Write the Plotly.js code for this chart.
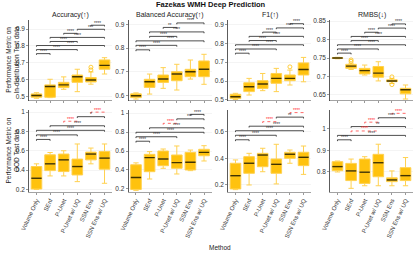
<!DOCTYPE html>
<html><head><meta charset="utf-8">
<script src="https://cdn.plot.ly/plotly-3.0.1.min.js"></script>
<style>html,body{margin:0;padding:0;background:#fff}#chart{width:415px;height:254px}</style>
</head><body><div id="chart"></div>
<script>
const methods = ["Volume Only","SEnf","P-Unet","P-Unet w/ UQ","SSN Ens","SSN Ens w/ UQ"];
const metrics = ["Accuracy(↑)","Balanced Accuracy(↑)","F1(↑)","RMBS(↓)"];
const higherBetter = [true,true,true,false];
const comparisons = [[0,1],[0,3],[0,5],[1,3],[1,5],[2,3],[3,5],[4,5]];

// In-distribution test data
const accID_lo  = [0.492,0.496,0.545,0.531,0.575,0.635];
const accID_q1  = [0.498,0.498,0.555,0.586,0.588,0.663];
const accID_med = [0.508,0.561,0.571,0.619,0.600,0.686];
const accID_q3  = [0.518,0.571,0.586,0.629,0.614,0.718];
const accID_hi  = [0.525,0.604,0.618,0.663,0.647,0.731];
const accID_outX = [4,4], accID_outY = [0.675,0.659];
const accID_sig = ["****","****","****","****","****","****","***","****"];

const baID_lo  = [0.586,0.607,0.631,0.624,0.670,0.648];
const baID_q1  = [0.592,0.635,0.656,0.663,0.680,0.680];
const baID_med = [0.600,0.659,0.670,0.691,0.701,0.711];
const baID_q3  = [0.608,0.669,0.687,0.701,0.711,0.746];
const baID_hi  = [0.612,0.691,0.718,0.732,0.750,0.774];
const baID_sig = ["****","****","****","****","****","**","****","****"];

const f1ID_lo  = [0.502,0.526,0.549,0.544,0.579,0.596];
const f1ID_q1  = [0.507,0.544,0.561,0.588,0.602,0.632];
const f1ID_med = [0.517,0.570,0.584,0.614,0.614,0.661];
const f1ID_q3  = [0.530,0.591,0.602,0.640,0.632,0.696];
const f1ID_hi  = [0.535,0.614,0.640,0.667,0.658,0.725];
const f1ID_outX = [4], f1ID_outY = [0.675];
const f1ID_sig = ["****","****","****","****","****","****","****","****"];

const rmbsID_lo  = [0.748,0.719,0.704,0.688,0.681,0.639];
const rmbsID_q1  = [0.749,0.722,0.707,0.698,0.686,0.653];
const rmbsID_med = [0.750,0.728,0.716,0.709,0.688,0.664];
const rmbsID_q3  = [0.751,0.733,0.722,0.727,0.691,0.668];
const rmbsID_hi  = [0.752,0.736,0.731,0.740,0.695,0.677];
const rmbsID_outX = [1,1,4,4], rmbsID_outY = [0.745,0.741,0.699,0.678];
const rmbsID_sig = ["****","****","****","****","****","****","****","****"];

// OOD test data
const accOOD_lo  = [0.200,0.340,0.340,0.281,0.465,0.264];
const accOOD_q1  = [0.205,0.395,0.385,0.350,0.506,0.410];
const accOOD_med = [0.316,0.465,0.506,0.437,0.566,0.524];
const accOOD_q3  = [0.437,0.558,0.566,0.514,0.586,0.593];
const accOOD_hi  = [0.465,0.582,0.600,0.670,0.628,0.670];
const accOOD_sig = ["****","****","****","","****","****","*","****"];

const baOOD_lo  = [0.185,0.305,0.418,0.358,0.393,0.495];
const baOOD_q1  = [0.195,0.382,0.445,0.418,0.400,0.550];
const baOOD_med = [0.320,0.530,0.516,0.477,0.481,0.586];
const baOOD_q3  = [0.455,0.565,0.600,0.558,0.586,0.618];
const baOOD_hi  = [0.475,0.593,0.621,0.653,0.610,0.656];
const baOOD_sig = ["****","****","****","","****","****","***","****"];

const f1OOD_lo  = [0.165,0.200,0.300,0.208,0.364,0.280];
const f1OOD_q1  = [0.170,0.288,0.338,0.288,0.401,0.346];
const f1OOD_med = [0.270,0.364,0.426,0.356,0.432,0.409];
const f1OOD_q3  = [0.364,0.414,0.439,0.396,0.447,0.447];
const f1OOD_hi  = [0.389,0.439,0.477,0.507,0.464,0.494];
const f1OOD_sig = ["****","****","****","","****","****","**","****"];

const rmbsOOD_lo  = [0.800,0.724,0.736,0.736,0.736,0.736];
const rmbsOOD_q1  = [0.806,0.760,0.747,0.778,0.755,0.760];
const rmbsOOD_med = [0.825,0.805,0.799,0.843,0.763,0.783];
const rmbsOOD_q3  = [0.848,0.840,0.860,0.882,0.773,0.820];
const rmbsOOD_hi  = [0.851,0.860,0.871,0.929,0.805,0.867];
const rmbsOOD_sig = ["****","","****","****","**","****","****","****"];

// y-axis tick values per panel
const ticksAccID = [0.5,0.6,0.7,0.8,0.9];
const ticksBaID = [0.6,0.7,0.8,0.9];
const ticksF1ID = [0.5,0.6,0.7,0.8,0.9];
const ticksRmbsID = [0.65,0.7,0.75,0.8,0.85];
const ticksAccOOD = [0.2,0.4,0.6,0.8,1];
const ticksBaOOD = [0.2,0.4,0.6,0.8,1];
const ticksF1OOD = [0.2,0.4,0.6];
const ticksRmbsOOD = [0.8,0.9,1];

const panels = [
 {m:0,row:0,lo:accID_lo,q1:accID_q1,med:accID_med,q3:accID_q3,hi:accID_hi,ox:accID_outX,oy:accID_outY,sig:accID_sig,ticks:ticksAccID,range:[0.479,0.953]},
 {m:1,row:0,lo:baID_lo,q1:baID_q1,med:baID_med,q3:baID_q3,hi:baID_hi,ox:[],oy:[],sig:baID_sig,ticks:ticksBaID,range:[0.580,0.918]},
 {m:2,row:0,lo:f1ID_lo,q1:f1ID_q1,med:f1ID_med,q3:f1ID_q3,hi:f1ID_hi,ox:f1ID_outX,oy:f1ID_outY,sig:f1ID_sig,ticks:ticksF1ID,range:[0.497,0.923]},
 {m:3,row:0,lo:rmbsID_lo,q1:rmbsID_q1,med:rmbsID_med,q3:rmbsID_q3,hi:rmbsID_hi,ox:rmbsID_outX,oy:rmbsID_outY,sig:rmbsID_sig,ticks:ticksRmbsID,range:[0.635,0.853]},
 {m:0,row:1,lo:accOOD_lo,q1:accOOD_q1,med:accOOD_med,q3:accOOD_q3,hi:accOOD_hi,ox:[],oy:[],sig:accOOD_sig,ticks:ticksAccOOD,range:[0.174,1.021]},
 {m:1,row:1,lo:baOOD_lo,q1:baOOD_q1,med:baOOD_med,q3:baOOD_q3,hi:baOOD_hi,ox:[],oy:[],sig:baOOD_sig,ticks:ticksBaOOD,range:[0.168,1.032]},
 {m:2,row:1,lo:f1OOD_lo,q1:f1OOD_q1,med:f1OOD_med,q3:f1OOD_q3,hi:f1OOD_hi,ox:[],oy:[],sig:f1OOD_sig,ticks:ticksF1OOD,range:[0.147,0.766]},
 {m:3,row:1,lo:rmbsOOD_lo,q1:rmbsOOD_q1,med:rmbsOOD_med,q3:rmbsOOD_q3,hi:rmbsOOD_hi,ox:[],oy:[],sig:rmbsOOD_sig,ticks:ticksRmbsOOD,range:[0.707,1.088]}
];

const W = 415, H = 254;
const FONT = 'Liberation Sans, Arial, sans-serif';
const colLeft = [29, 128.5, 228, 330], colW = 83;
const rowTop = [20, 110], rowBot = [100.5, 192];
const GOLD = '#FFC20E', GOLDLINE = '#FFD150', MED = '#3f3200';

const traces = [], annotations = [];
const layout = {
  width: W, height: H, margin: {l:0,r:0,t:0,b:0},
  paper_bgcolor: '#fff', plot_bgcolor: '#fff', showlegend: false,
  font: {family: FONT, size: 6, color: '#333'}
};

panels.forEach((p, i) => {
  const n = i + 1, sfx = n === 1 ? '' : String(n);
  const xa = 'x' + sfx, ya = 'y' + sfx;
  const col = p.m, row = p.row;
  const xs = methods.map((_, k) => k);
  traces.push({type:'box', xaxis:xa, yaxis:ya, x:xs, q1:p.q1, median:p.med, q3:p.q3,
    lowerfence:p.lo, upperfence:p.hi, boxpoints:false, width:0.78, whiskerwidth:0.5,
    fillcolor:GOLD, line:{color:GOLDLINE, width:1}, hoverinfo:'skip', showlegend:false});
  const mx = [], my = [];
  p.med.forEach((v, k) => { mx.push(k - 0.38, k + 0.38, null); my.push(v, v, null); });
  traces.push({type:'scatter', mode:'lines', xaxis:xa, yaxis:ya, x:mx, y:my,
    line:{color:MED, width:1.4}, hoverinfo:'skip', showlegend:false});
  if (p.ox.length) {
    traces.push({type:'scatter', mode:'markers', xaxis:xa, yaxis:ya, x:p.ox, y:p.oy,
      marker:{symbol:'circle-open', size:4, color:GOLD, line:{width:0.8, color:GOLD}},
      hoverinfo:'skip', showlegend:false});
  }
  // significance brackets (positions derived from the data range, ggpubr style)
  const all = p.lo.concat(p.hi, p.oy);
  const ymin = Math.min(...all), ymax = Math.max(...all);
  const step = 0.1 * (ymax - ymin), tip = step * 0.3;
  const bx = [], by = [], rx = [], ry = [];
  let level = 0;
  comparisons.forEach((c, k) => {
    const lab = p.sig[k];
    if (!lab) return;
    const y = ymax + step * (level + 1); level++;
    const a = c[0], b = c[1];
    const worse = higherBetter[p.m] ? p.med[b] < p.med[a] : p.med[b] > p.med[a];
    const X = worse ? rx : bx, Y = worse ? ry : by;
    X.push(a, a, b, b, null); Y.push(y - tip, y, y, y - tip, null);
    annotations.push({xref:xa, yref:ya, x:(a + b) / 2, y:y, text:lab, showarrow:false,
      yanchor:'bottom', yshift:-2.5, font:{size:4.5, family:FONT, color: worse ? '#ff2a2a' : '#333'}});
  });
  traces.push({type:'scatter', mode:'lines', xaxis:xa, yaxis:ya, x:bx, y:by,
    line:{color:'#222', width:0.8}, hoverinfo:'skip', showlegend:false});
  if (rx.length) traces.push({type:'scatter', mode:'lines', xaxis:xa, yaxis:ya, x:rx, y:ry,
    line:{color:'#ff2a2a', width:0.7, dash:'dot'}, hoverinfo:'skip', showlegend:false});

  layout['xaxis' + sfx] = {
    domain: [colLeft[col] / W, (colLeft[col] + colW) / W], anchor: ya,
    range: [-0.55, 5.55], tickvals: xs, ticktext: methods,
    showticklabels: row === 1, tickangle: -65,
    tickfont: {size: 6, family: FONT, color: '#333'},
    ticks: 'outside', ticklen: 2, tickwidth: 0.6, tickcolor: '#555',
    showline: true, linecolor: '#666', linewidth: 0.6,
    showgrid: false, zeroline: false, fixedrange: true
  };
  layout['yaxis' + sfx] = {
    domain: [1 - rowBot[row] / H, 1 - rowTop[row] / H], anchor: xa,
    range: p.range, tickvals: p.ticks, ticktext: p.ticks.map(String),
    tickfont: {size: 6.5, family: FONT, color: '#333'},
    ticks: 'outside', ticklen: 2, tickwidth: 0.6, tickcolor: '#555',
    showline: true, linecolor: '#333', linewidth: 0.8,
    showgrid: true, gridcolor: '#ECECEC', gridwidth: 0.6, zeroline: false, fixedrange: true
  };
});

// titles
annotations.push({xref:'paper', yref:'paper', x:211/W, y:1 - 5/H, text:'<b>Fazekas WMH Deep Prediction</b>',
  showarrow:false, xanchor:'center', yanchor:'middle', font:{size:7.5, family:FONT, color:'#111'}});
metrics.forEach((t, c) => {
  annotations.push({xref:'paper', yref:'paper', x:(colLeft[c] + colW / 2) / W, y:1 - 14.5 / H, text:t,
    showarrow:false, xanchor:'center', yanchor:'middle', font:{size:7, family:FONT, color:'#222'}});
});
annotations.push({xref:'paper', yref:'paper', x:11.5 / W, y:1 - 60 / H,
  text:'Performance Metric on<br>In-distribution Test data', textangle:-90, showarrow:false,
  xanchor:'center', yanchor:'middle', font:{size:6.5, family:FONT, color:'#222'}});
annotations.push({xref:'paper', yref:'paper', x:11.5 / W, y:1 - 151 / H,
  text:'Performance Metric on<br>OOD Test data', textangle:-90, showarrow:false,
  xanchor:'center', yanchor:'middle', font:{size:6.5, family:FONT, color:'#222'}});
annotations.push({xref:'paper', yref:'paper', x:220 / W, y:1 - 247 / H, text:'Method',
  showarrow:false, xanchor:'center', yanchor:'middle', font:{size:6.5, family:FONT, color:'#222'}});

layout.annotations = annotations;
Plotly.newPlot('chart', traces, layout, {staticPlot: true, displayModeBar: false});
</script></body></html>
